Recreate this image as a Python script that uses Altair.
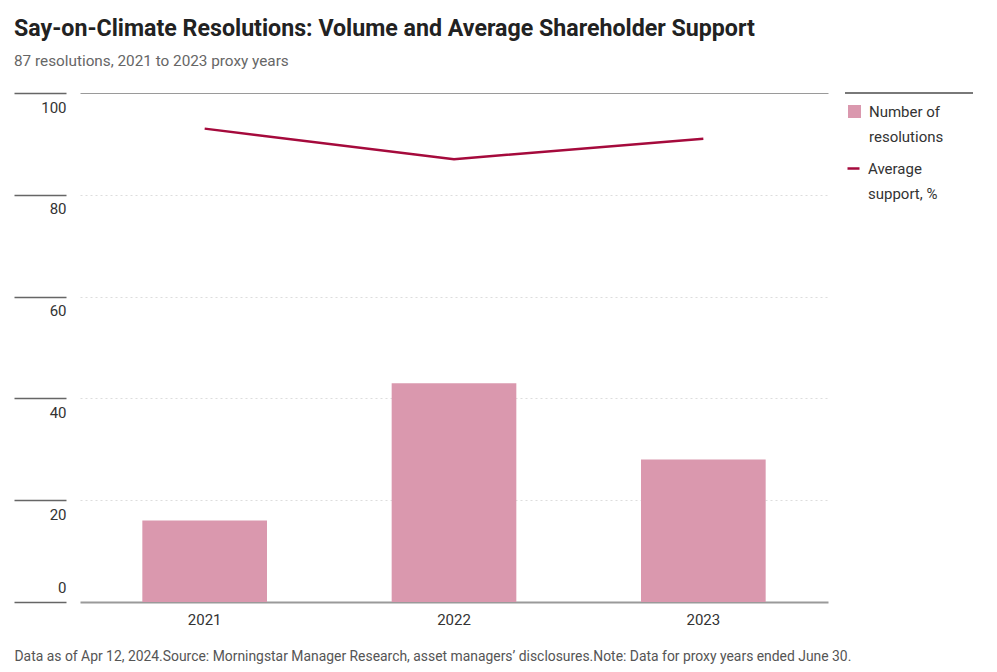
import altair as alt
import pandas as pd

years = ["2021", "2022", "2023"]
resolutions = [16, 43, 28]
avg_support = [93.0, 87.0, 91.0]
y_ticks = [0, 20, 40, 60, 80, 100]

BAR_NAME = "Number of resolutions"
LINE_NAME = "Average support, %"
FONT = "Roboto"

df = pd.DataFrame({"year": years, "count": resolutions, "support": avg_support})

x_enc = alt.X(
    "year:N",
    scale=alt.Scale(paddingInner=0.5, paddingOuter=0.25),
    axis=alt.Axis(
        title="Data as of Apr 12, 2024.Source: Morningstar Manager Research, asset managers\u2019 disclosures.Note: Data for proxy years ended June 30.",
        titleX=-66, titleY=58, titleAlign="left", titleAnchor="start",
        titleBaseline="alphabetic", titleFont=FONT, titleFontSize=13.9,
        titleFontWeight="normal", titleColor="#555555",
        labelAngle=0, labelFont=FONT, labelFontSize=15, labelColor="#333333",
        labelPadding=10, ticks=False, domainColor="#9a9a9a", domainWidth=2,
        grid=False,
    ),
)

y_scale = alt.Scale(domain=[0, 100])

bars = alt.Chart(df).mark_bar(color="#DA98AE").encode(
    x=x_enc,
    y=alt.Y(
        "count:Q",
        scale=y_scale,
        axis=alt.Axis(
            title=None, values=y_ticks, offset=14, domain=False,
            ticks=True, tickSize=52, tickColor="#666666", tickWidth=1.5,
            labelPadding=-52, labelAlign="right",
            labelBaseline=alt.condition("datum.value == 0", alt.value("bottom"), alt.value("top")),
            labelOffset=alt.condition("datum.value == 0", alt.value(-7), alt.value(7)),
            labelFont=FONT, labelFontSize=15, labelColor="#333333",
            grid=True,
            gridColor=alt.condition("datum.value == 100", alt.value("#9a9a9a"), alt.value("#dddddd")),
            gridDash=alt.condition("datum.value == 100", alt.value([]), alt.value([2, 3])),
            gridWidth=alt.condition("datum.value == 0", alt.value(0), alt.value(1)),
        ),
    ),
    fill=alt.Fill(
        "series:N",
        scale=alt.Scale(domain=[BAR_NAME], range=["#DA98AE"]),
        legend=alt.Legend(
            title=None, orient="none", legendX=767, legendY=11,
            symbolType="square", symbolSize=169, symbolStrokeWidth=0,
            labelExpr="datum.label == 'Number of resolutions' ? ['Number of', 'resolutions'] : datum.label",
            labelFont=FONT, labelFontSize=15, labelColor="#333333",
            labelOffset=7, labelLimit=200, labelBaseline="middle",
        ),
    ),
).transform_calculate(series=f"'{BAR_NAME}'")

line = alt.Chart(df).mark_line(color="#A50A3C", strokeWidth=2.5).encode(
    x=alt.X("year:N"),
    y=alt.Y("support:Q", scale=y_scale),
    stroke=alt.Stroke(
        "series:N",
        scale=alt.Scale(domain=[LINE_NAME], range=["#A50A3C"]),
        legend=alt.Legend(
            title=None, orient="none", legendX=766, legendY=68,
            symbolType="stroke", symbolSize=144, symbolStrokeWidth=2.5,
            labelExpr="datum.label == 'Average support, %' ? ['Average', 'support, %'] : datum.label",
            labelFont=FONT, labelFontSize=15, labelColor="#333333",
            labelOffset=7, labelLimit=200, labelBaseline="middle",
        ),
    ),
).transform_calculate(series=f"'{LINE_NAME}'")

legend_rule = alt.Chart(df).mark_rule(color="#666666", strokeWidth=1.2, clip=False).encode(
    x=alt.value(765), x2=alt.value(893), y=alt.value(0)
)

chart = alt.layer(bars, line, legend_rule).properties(
    width=748,
    height=509,
    autosize=alt.AutoSizeParams(type="none"),
    padding={"left": 72, "top": 85, "right": 161, "bottom": 62},
    title=alt.TitleParams(
        text="Say-on-Climate Resolutions: Volume and Average Shareholder Support",
        subtitle="87 resolutions, 2021 to 2023 proxy years",
        anchor="start", frame="group", dx=-66, offset=22,
        font=FONT, fontSize=23.2, fontWeight="bold", color="#222222",
        subtitleFont=FONT, subtitleFontSize=15.3, subtitleColor="#666666",
        subtitlePadding=13,
    ),
).configure(
    view=alt.ViewConfig(stroke=None),
    legend=alt.LegendConfig(padding=0, rowPadding=10),
    style={"guide-label": {"lineHeight": 25}},
)

chart.save("out.html", embed_options={"renderer": "svg", "actions": False})
